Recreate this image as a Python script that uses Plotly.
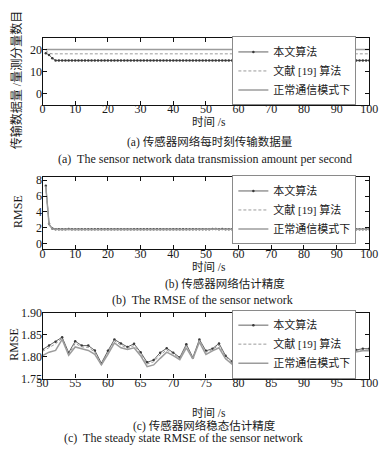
import plotly.graph_objects as go

W, H = 387, 449

# ---------------- data ----------------
time_a = list(range(1, 101))
ours_amount = [18.3, 17.5, 16.0] + [15.0] * 97
ref19_amount = [19.5, 18.3] + [18.0] * 98
normal_amount = [20.0] * 100

time_b = list(range(1, 101))
ours_rmse = [
    7.30, 2.50, 1.90, 1.83, 1.82, 1.83, 1.82, 1.84, 1.83, 1.82,
    1.83, 1.81, 1.82, 1.83, 1.82, 1.81, 1.82, 1.83, 1.82, 1.82,
    1.81, 1.83, 1.82, 1.82, 1.81, 1.82, 1.83, 1.82, 1.81, 1.82,
    1.82, 1.83, 1.82, 1.81, 1.82, 1.82, 1.83, 1.81, 1.82, 1.82,
    1.83, 1.82, 1.81, 1.82, 1.83, 1.82, 1.82, 1.81, 1.82,
    1.816, 1.825, 1.834, 1.844, 1.809, 1.835, 1.825, 1.825, 1.814, 1.785,
    1.813, 1.839, 1.830, 1.822, 1.829, 1.810, 1.787, 1.792, 1.809, 1.819,
    1.809, 1.798, 1.828, 1.798, 1.839, 1.813, 1.818, 1.830, 1.802, 1.789,
    1.808, 1.822, 1.815, 1.828, 1.812, 1.820, 1.832, 1.818, 1.806, 1.824,
    1.816, 1.827, 1.811, 1.821, 1.817, 1.826, 1.814, 1.812, 1.815, 1.818,
    1.818,
]
ref19_rmse = [
    7.25, 2.45, 1.88, 1.82, 1.81, 1.82, 1.81, 1.83, 1.82, 1.81,
    1.82, 1.80, 1.81, 1.82, 1.81, 1.80, 1.81, 1.82, 1.81, 1.81,
    1.80, 1.82, 1.81, 1.81, 1.80, 1.81, 1.82, 1.81, 1.80, 1.81,
    1.81, 1.82, 1.81, 1.80, 1.81, 1.81, 1.82, 1.80, 1.81, 1.81,
    1.82, 1.81, 1.80, 1.81, 1.82, 1.81, 1.81, 1.80, 1.81,
    1.812, 1.820, 1.829, 1.842, 1.806, 1.830, 1.822, 1.821, 1.810, 1.783,
    1.810, 1.836, 1.826, 1.819, 1.825, 1.806, 1.783, 1.788, 1.804, 1.815,
    1.806, 1.796, 1.825, 1.797, 1.837, 1.810, 1.816, 1.826, 1.799, 1.786,
    1.806, 1.819, 1.812, 1.825, 1.809, 1.817, 1.829, 1.815, 1.803, 1.821,
    1.813, 1.824, 1.808, 1.818, 1.814, 1.823, 1.811, 1.810, 1.812, 1.815,
    1.815,
]
normal_rmse = [
    7.20, 2.40, 1.86, 1.81, 1.80, 1.81, 1.80, 1.82, 1.81, 1.80,
    1.81, 1.79, 1.80, 1.81, 1.80, 1.79, 1.80, 1.81, 1.80, 1.80,
    1.79, 1.81, 1.80, 1.80, 1.79, 1.80, 1.81, 1.80, 1.79, 1.80,
    1.80, 1.81, 1.80, 1.79, 1.80, 1.80, 1.81, 1.79, 1.80, 1.80,
    1.81, 1.80, 1.79, 1.80, 1.81, 1.80, 1.80, 1.79, 1.80,
    1.802, 1.810, 1.814, 1.839, 1.803, 1.822, 1.818, 1.814, 1.805, 1.781,
    1.805, 1.831, 1.820, 1.816, 1.820, 1.802, 1.777, 1.781, 1.796, 1.810,
    1.802, 1.793, 1.820, 1.795, 1.833, 1.805, 1.813, 1.820, 1.795, 1.783,
    1.803, 1.816, 1.809, 1.822, 1.806, 1.814, 1.826, 1.812, 1.800, 1.818,
    1.810, 1.821, 1.805, 1.815, 1.811, 1.820, 1.808, 1.808, 1.810, 1.813,
    1.813,
]
steady_start = 49  # index of t = 50 s

series_names = ["本文算法", "文献 [19] 算法", "正常通信模式下"]
xticks_ab = [0, 10, 20, 30, 40, 50, 60, 70, 80, 90, 100]
xticks_c = [50, 55, 60, 65, 70, 75, 80, 85, 90, 95, 100]
yticks_a = [0, 10, 20]
yticks_b = [0, 2, 4, 6, 8]
yticks_c = [1.75, 1.80, 1.85, 1.90]

# ---------------- styles ----------------
FONT = "Liberation Serif, 'Times New Roman', 'Noto Sans CJK SC', serif"
TXT = "#1a1a1a"
styles = [
    dict(mode="lines+markers", line=dict(color="#3a3a3a", width=0.8),
         marker=dict(size=2.5, color="#3a3a3a")),
    dict(mode="lines", line=dict(color="#9a9a9a", width=1, dash="3px,2px")),
    dict(mode="lines", line=dict(color="#9c9c9c", width=1.5)),
]

fig = go.Figure()
panels = [
    ("", "legend", time_a, [ours_amount, ref19_amount, normal_amount]),
    ("2", "legend2", time_b, [ours_rmse, ref19_rmse, normal_rmse]),
    ("3", "legend3", time_b[steady_start:],
     [ours_rmse[steady_start:], ref19_rmse[steady_start:], normal_rmse[steady_start:]]),
]
for suf, leg, xs, ys_list in panels:
    for name, ys, st in zip(series_names, ys_list, styles):
        fig.add_trace(go.Scatter(x=xs, y=ys, name=name, xaxis="x" + suf, yaxis="y" + suf,
                                 legend=leg, showlegend=True, **st))

def py(p):
    return 1 - p / H

x0, x1 = 38 / W, 378 / W
axis_common = dict(showline=True, linecolor="#111", linewidth=1.3, mirror="allticks",
                   ticks="inside", ticklen=4, tickwidth=1, tickcolor="#111",
                   showgrid=False, zeroline=False,
                   tickfont=dict(family=FONT, size=12, color=TXT))

doms = [(101, 32), (250, 175.5), (383.5, 315.5)]
xranges = [[0, 100], [0, 100], [50, 100]]
xtv = [xticks_ab, xticks_ab, xticks_c]
yranges = [[-5.2, 25.2], [-0.7, 8.4], [1.75, 1.90]]
ytv = [yticks_a, yticks_b, yticks_c]
yfmt = ["", "", ".2f"]

layout_axes = {}
for i, suf in enumerate(["", "2", "3"]):
    layout_axes["xaxis" + suf] = dict(domain=[x0, x1], anchor="y" + suf, range=xranges[i],
                                      tickvals=xtv[i], ticklabelstandoff=-7, **axis_common)
    layout_axes["yaxis" + suf] = dict(domain=[py(doms[i][0]), py(doms[i][1])],
                                      anchor="x" + suf, range=yranges[i],
                                      tickvals=ytv[i], tickformat=yfmt[i],
                                      ticklabelstandoff=-3, **axis_common)

legend_common = dict(xref="paper", yref="paper", xanchor="center", yanchor="middle",
                     bgcolor="white", bordercolor="#8a8a8a", borderwidth=1,
                     font=dict(family=FONT, size=11, color=TXT),
                     itemwidth=30, tracegroupgap=0)
legends = dict(
    legend=dict(x=300 / W, y=py(66), **legend_common),
    legend2=dict(x=300 / W, y=py(209.5), **legend_common),
    legend3=dict(x=300 / W, y=py(348), **legend_common),
)

def ann(text, x, y, size=11.5, angle=0):
    return dict(text=text, x=x / W, y=py(y), xref="paper", yref="paper",
                xanchor="center", yanchor="middle", showarrow=False, textangle=angle,
                font=dict(family=FONT, size=size, color=TXT))

annotations = [
    ann("传输数据量 /量测分量数目", 11, 76, size=12, angle=-90),
    ann("时间 /s", 211, 119),
    ann("(a) 传感器网络每时刻传输数据量", 212, 139),
    ann("(a)  The sensor network data transmission amount per second", 207, 157, size=12),
    ann("RMSE", 13, 211, size=12, angle=-90),
    ann("时间 /s", 211, 268),
    ann("(b) 传感器网络估计精度", 228, 286),
    ann("(b)  The RMSE of the sensor network", 204, 302, size=12),
    ann("RMSE", 8, 348, size=12, angle=-90),
    ann("时间 /s", 211, 419),
    ann("(c) 传感器网络稳态估计精度", 206, 433),
    ann("(c)  The steady state RMSE of the sensor network", 185, 445, size=12),
]

fig.update_layout(width=W, height=H, margin=dict(l=0, r=0, t=0, b=0),
                  paper_bgcolor="white", plot_bgcolor="white",
                  annotations=annotations, **layout_axes, **legends)

fig.write_html("out.html", config={"displayModeBar": False},
               post_script="document.body.style.margin='0';")
